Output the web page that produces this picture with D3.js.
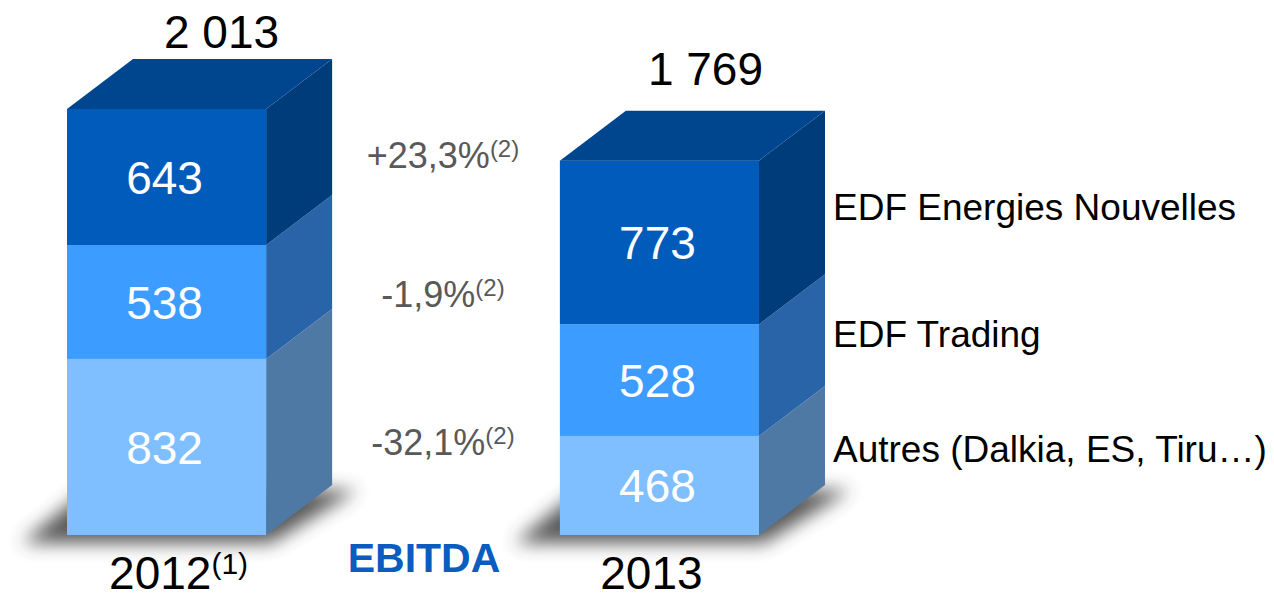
<!DOCTYPE html>
<html lang="fr">
<head>
<meta charset="UTF-8">
<title>EBITDA</title>
<script src="https://cdn.jsdelivr.net/npm/d3@7"></script>
<style>
  body { margin: 0; background: #fff; }
  text { font-family: "Liberation Sans", Arial, sans-serif; }
</style>
</head>
<body>
<div class="chart"></div>
<script>
var years = ['2012', '2013'];
var yearNotes = ['(1)', ''];
var segments = ['Autres (Dalkia, ES, Tiru…)', 'EDF Trading', 'EDF Energies Nouvelles'];
var values2012 = [832, 538, 643];
var values2013 = [468, 528, 773];
var totals = ['2 013', '1 769'];
var growth = ['-32,1%', '-1,9%', '+23,3%'];

var W = 1274, H = 593;
var frontColors = ['#80bfff', '#3d9cff', '#005bbb'];
var sideColors = ['#4e79a5', '#2964a8', '#003b7a'];
var topColor = '#00468f';
var dx = 66, dy = 50;
// hand placement of labels (as on the slide)
var totalShift = [[55, -11], [46, -26]];
var growthY = [455, 307, 168];
var segNameShift = [-23, -33, -22];

var svg = d3.select('.chart').append('svg')
  .attr('width', W).attr('height', H);

var defs = svg.append('defs');
defs.append('filter').attr('id', 'blur')
  .attr('x', '-30%').attr('y', '-100%').attr('width', '160%').attr('height', '300%')
  .append('feGaussianBlur').attr('stdDeviation', 9);

var x = d3.scaleBand().domain(years).range([67, 759]).paddingInner(0.596).paddingOuter(0);
var y = d3.scaleLinear().domain([0, 2013]).range([535, 109]);

var stacks = [values2012, values2013].map(function(vals) {
  var acc = 0;
  return vals.map(function(v, i) {
    var s = { i: i, v: v, y0: acc, y1: acc + v };
    acc += v;
    return s;
  });
});

var bw = x.bandwidth();

years.forEach(function(yr, k) {
  var x0 = x(yr), x1 = x0 + bw;
  var stack = stacks[k];
  var g = svg.append('g');

  // floor shadow
  g.append('path')
    .attr('d', 'M' + (x0 - 45) + ',' + (y(0) + 8) +
               'L' + (x1 + 5) + ',' + (y(0) + 8) +
               'L' + (x1 + dx + 25) + ',' + (y(0) - dy + 5) +
               'L' + (x0 + 20) + ',' + (y(0) - dy + 5) + 'Z')
    .attr('fill', '#3a3a3a').attr('opacity', 0.85)
    .attr('filter', 'url(#blur)');

  // side faces
  g.selectAll('.side').data(stack).enter().append('path')
    .attr('d', function(d) {
      return 'M' + x1 + ',' + y(d.y0) + 'L' + (x1 + dx) + ',' + (y(d.y0) - dy) +
             'L' + (x1 + dx) + ',' + (y(d.y1) - dy) + 'L' + x1 + ',' + y(d.y1) + 'Z';
    })
    .attr('fill', function(d) { return sideColors[d.i]; });

  // front faces
  g.selectAll('.front').data(stack).enter().append('rect')
    .attr('x', x0).attr('width', bw)
    .attr('y', function(d) { return y(d.y1); })
    .attr('height', function(d) { return y(d.y0) - y(d.y1); })
    .attr('fill', function(d) { return frontColors[d.i]; });

  // top face
  var top = stack[stack.length - 1].y1;
  g.append('path')
    .attr('d', 'M' + x0 + ',' + y(top) + 'L' + (x0 + dx) + ',' + (y(top) - dy) +
               'L' + (x1 + dx) + ',' + (y(top) - dy) + 'L' + x1 + ',' + y(top) + 'Z')
    .attr('fill', topColor);

  // segment values
  g.selectAll('.val').data(stack).enter().append('text')
    .attr('x', x0 + bw / 2 - 2)
    .attr('y', function(d) { return (y(d.y0) + y(d.y1)) / 2 + 17; })
    .attr('text-anchor', 'middle')
    .attr('fill', '#fff').attr('font-size', 46)
    .text(function(d) { return d.v; });

  // total
  g.append('text')
    .attr('x', x0 + bw / 2 + totalShift[k][0])
    .attr('y', y(top) - dy + totalShift[k][1])
    .attr('text-anchor', 'middle')
    .attr('font-size', 46).attr('fill', '#000')
    .text(totals[k]);

  // year label
  var yl = g.append('text')
    .attr('x', x0 + bw / 2 - 8 + (yearNotes[k] ? 20 : 0))
    .attr('y', 589)
    .attr('text-anchor', 'middle')
    .attr('font-size', 46).attr('fill', '#000');
  yl.append('tspan').text(yr);
  if (yearNotes[k]) {
    yl.append('tspan').attr('font-size', 30).attr('dy', -15).text(yearNotes[k]);
  }
});

// growth rates between bars
svg.selectAll('.growth').data(stacks[0]).enter().append('text')
  .attr('x', 443)
  .attr('y', function(d, i) { return growthY[i]; })
  .attr('text-anchor', 'middle')
  .attr('fill', '#595959').attr('font-size', 36)
  .each(function(d, i) {
    var t = d3.select(this);
    t.append('tspan').text(growth[i]);
    t.append('tspan').attr('font-size', 24).attr('dy', -11).text('(2)');
  });

// segment names on the right
var xNames = x('2013') + bw + dx + 8;
svg.selectAll('.seg').data(stacks[1]).enter().append('text')
  .attr('x', xNames)
  .attr('y', function(d) { return (y(d.y0) + y(d.y1)) / 2 + segNameShift[d.i]; })
  .attr('font-size', 37).attr('fill', '#000')
  .text(function(d) { return segments[d.i]; });

svg.append('text')
  .attr('x', 424).attr('y', 572)
  .attr('text-anchor', 'middle')
  .attr('font-size', 41).attr('font-weight', 'bold').attr('fill', '#0a5cbf')
  .text('EBITDA');
</script>
</body>
</html>
